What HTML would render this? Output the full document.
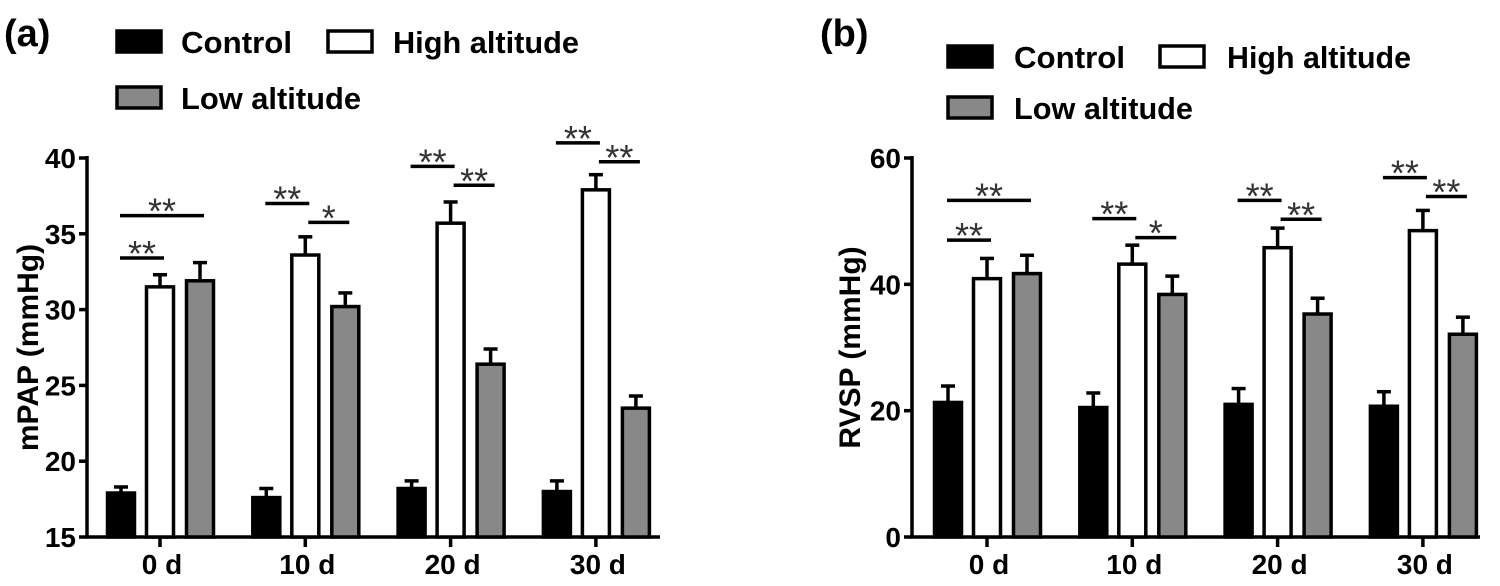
<!DOCTYPE html>
<html><head><meta charset="utf-8"><style>
html,body{margin:0;padding:0;background:#fff;}
svg{display:block;font-family:"Liberation Sans",Arial,sans-serif;font-weight:bold;}
</style></head><body>
<svg id="chart" width="1500" height="586" viewBox="0 0 1500 586" xmlns="http://www.w3.org/2000/svg"></svg>
<script>
// ---- data ----
const categories = ["0 d","10 d","20 d","30 d"];
const seriesNames = ["Control","High altitude","Low altitude"];
const mpapControl = [17.9,17.6,18.2,18.0];
const mpapControlErr = [0.4,0.6,0.5,0.7];
const mpapHigh = [31.5,33.6,35.7,37.9];
const mpapHighErr = [0.8,1.2,1.4,1.0];
const mpapLow = [31.9,30.2,26.4,23.5];
const mpapLowErr = [1.2,0.9,1.0,0.8];
const mpapTicks = [15,20,25,30,35,40];
const rvspControl = [21.3,20.5,21.0,20.7];
const rvspControlErr = [2.6,2.3,2.5,2.3];
const rvspHigh = [40.9,43.2,45.8,48.5];
const rvspHighErr = [3.2,3.0,3.1,3.2];
const rvspLow = [41.7,38.4,35.3,32.1];
const rvspLowErr = [2.9,2.9,2.5,2.7];
const rvspTicks = [0,20,40,60];
// significance: [category, from series, to series, level value, label]
const mpapSig = [[0,0,1,33.4,"**"],[0,0,2,36.2,"**"],[1,0,1,37.0,"**"],[1,1,2,35.75,"*"],[2,0,1,39.45,"**"],[2,1,2,38.2,"**"],[3,0,1,41.0,"**"],[3,1,2,39.75,"**"]];
const rvspSig = [[0,0,1,47.0,"**"],[0,0,2,53.3,"**"],[1,0,1,50.4,"**"],[1,1,2,47.4,"*"],[2,0,1,53.3,"**"],[2,1,2,50.3,"**"],[3,0,1,56.9,"**"],[3,1,2,53.9,"**"]];

const NS="http://www.w3.org/2000/svg";
const svg=document.getElementById('chart');
function mk(tag,attrs,parent){const e=document.createElementNS(NS,tag);for(const k in attrs)e.setAttribute(k,attrs[k]);(parent||svg).appendChild(e);return e;}
const fills=["#000","#fff","#888"];

function panel(p){
  const g=mk('g',{});
  
  
  const y=v=>p.y0+(v-p.min)/(p.max-p.min)*(p.y1-p.y0);
  const cx=i=>p.c0+i*p.step;
  const bx=(i,s)=>cx(i)+p.off[s];
  const ya=mk('line',{x1:p.ax,y1:p.y1-2,x2:p.ax,y2:p.y0+1.5,stroke:'#000','stroke-width':3.5},g);
  
  
  const xa=mk('line',{x1:p.ax-1.5,y1:p.y0,x2:p.xend,y2:p.y0,stroke:'#000','stroke-width':3.5},g);
  
  
  p.ticks.forEach(t=>{
    mk('line',{x1:p.ax-8,y1:y(t),x2:p.ax,y2:y(t),stroke:'#000','stroke-width':3.5},g);
    const tx=mk('text',{x:p.ax-11,y:y(t)+10,'text-anchor':'end','font-size':28},g);
    tx.textContent=t;
    
    
  });
  categories.forEach((c,i)=>{
    mk('line',{x1:cx(i),y1:p.y0,x2:cx(i),y2:p.y0+10,stroke:'#000','stroke-width':3.5},g);
    const tx=mk('text',{x:cx(i)+2,y:p.y0+37,'text-anchor':'middle','font-size':28},g);
    tx.textContent=c;
    
    
  });
  p.series.forEach((vals,s)=>{
    vals.forEach((v,i)=>{
      const x=bx(i,s)-p.bw/2, top=y(v), e=y(v+p.errs[s][i]);
      mk('line',{x1:bx(i,s),y1:top,x2:bx(i,s),y2:e,stroke:'#000','stroke-width':3.5},g);
      mk('line',{x1:bx(i,s)-7,y1:e,x2:bx(i,s)+7,y2:e,stroke:'#000','stroke-width':3.5},g);
      const r=mk('rect',{x:x,y:top,width:p.bw,height:p.y0-top,fill:fills[s],stroke:'#000','stroke-width':3.5},g);
      
      
    });
  });
  p.sig.forEach(sg=>{
    const [i,a,b,lv,lab]=sg;
    const x1=bx(i,a)+(a===0?-1:3), x2=bx(i,b)+4, yy=y(lv);
    mk('line',{x1:x1,y1:yy,x2:x2,y2:yy,stroke:'#000','stroke-width':3.5},g);
    const t=mk('text',{x:(x1+x2)/2,y:yy+8,'text-anchor':'middle','font-size':36,fill:'#333','font-weight':'normal'},g);
    t.textContent=lab;
    
    
  });
  const yt=mk('text',{x:0,y:0,'text-anchor':'middle','font-size':30,transform:`translate(${p.ytx},${(p.y0+p.y1)/2}) rotate(-90)`},g);
  yt.textContent=p.ytitle;
  
  
  const pl=mk('text',{x:p.lx,y:46,'font-size':38},g);
  pl.textContent=p.label;
  
  
  p.leg.forEach((L,s)=>{
    const r=mk('rect',{x:L[0],y:L[1],width:44,height:21,fill:fills[s],stroke:'#000','stroke-width':3.5},g);
    
    
    const t=mk('text',{x:L[2],y:L[1]+22,'font-size':31,textLength:L[3],lengthAdjust:'spacingAndGlyphs'},g);
    t.textContent=seriesNames[s];
    
    
  });
}

panel({id:'mpap',min:15,max:40,y0:537,y1:158,ax:87,xend:660,c0:160,step:145.3,off:[-39,0,40],bw:27,
  series:[mpapControl,mpapHigh,mpapLow],errs:[mpapControlErr,mpapHighErr,mpapLowErr],ticks:mpapTicks,sig:mpapSig,
  ytitle:'mPAP (mmHg)',ytx:38,label:'(a)',lx:4,
  leg:[[117,31,181,111],[328,31,393,186],[117,87,181,180]]});
panel({id:'rvsp',min:0,max:60,y0:537,y1:158,ax:912,xend:1480,c0:987,step:145.3,off:[-39,0,40],bw:27,
  series:[rvspControl,rvspHigh,rvspLow],errs:[rvspControlErr,rvspHighErr,rvspLowErr],ticks:rvspTicks,sig:rvspSig,
  ytitle:'RVSP (mmHg)',ytx:860,label:'(b)',lx:820,
  leg:[[948,46,1014,111],[1160,46,1227,184],[948,97,1014,179]]});
</script>
</body></html>
